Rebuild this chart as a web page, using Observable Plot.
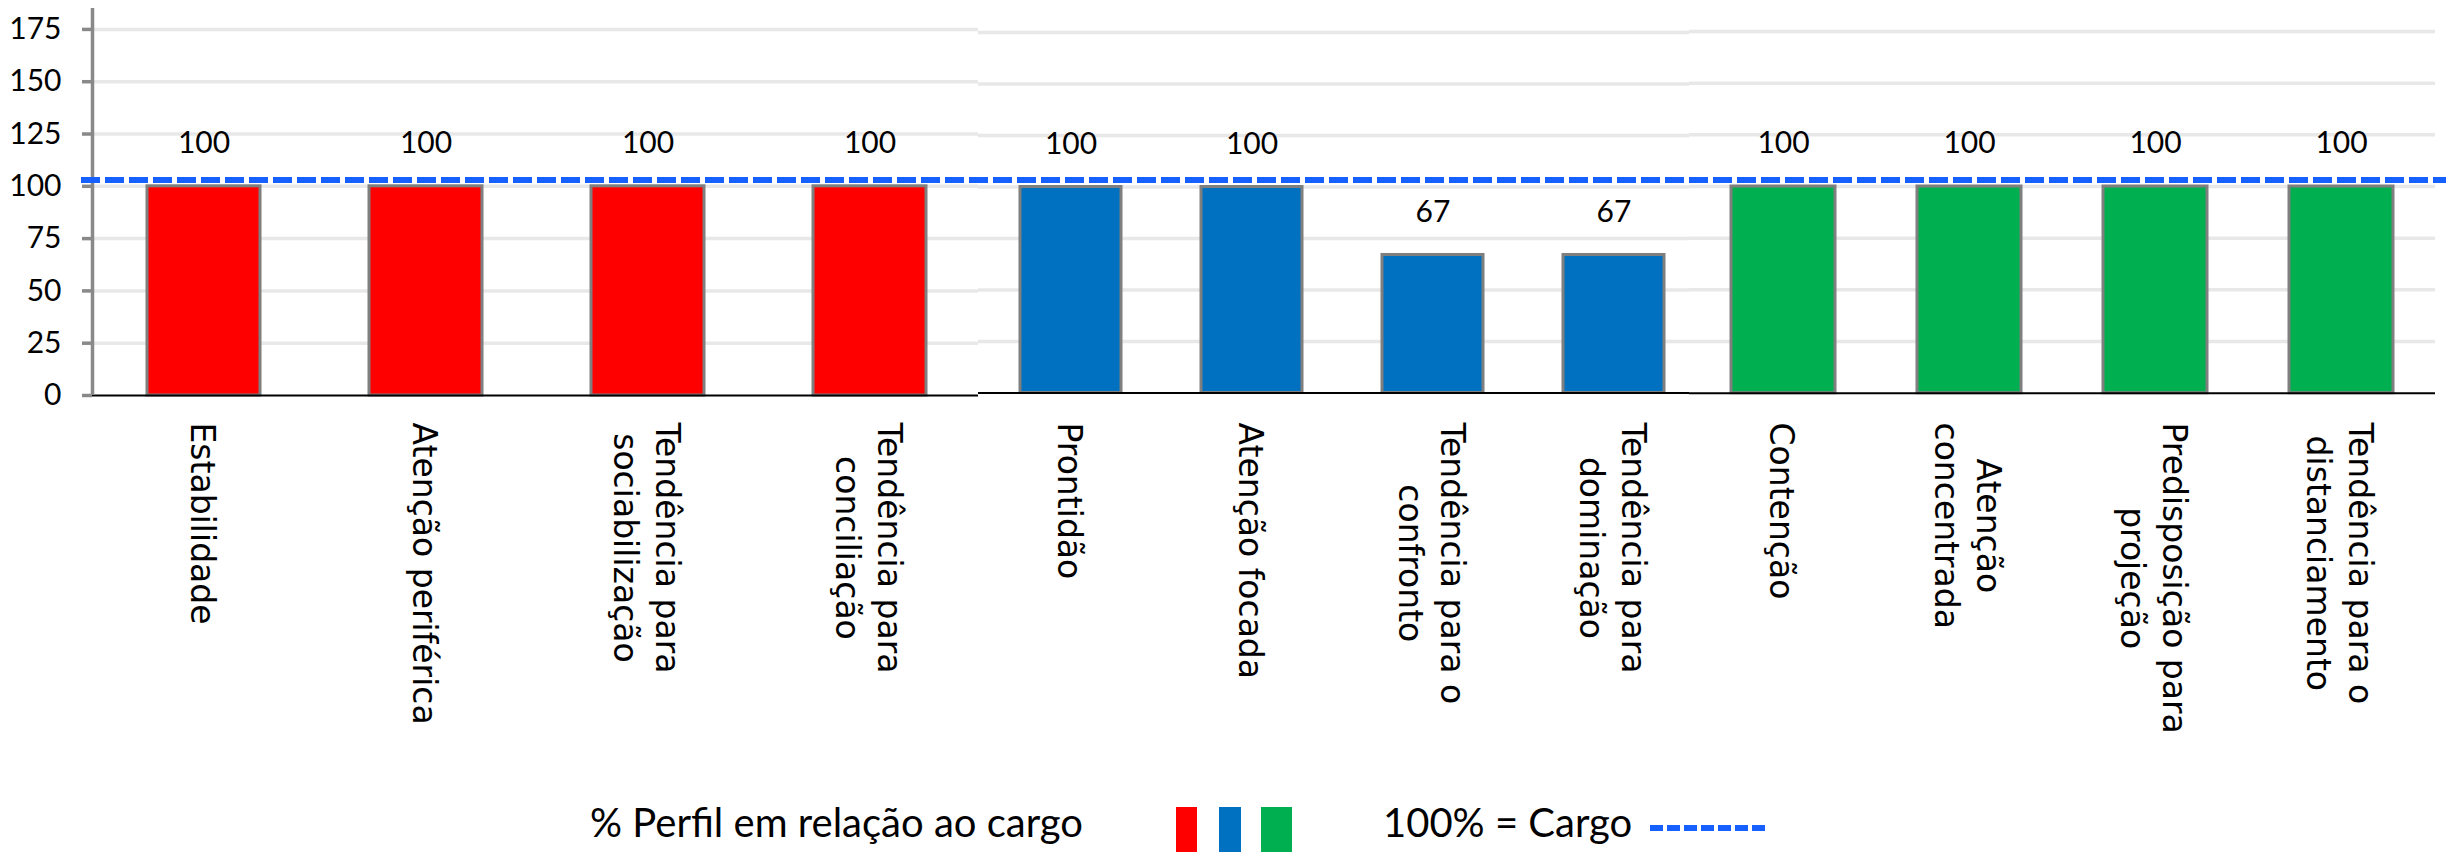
<!DOCTYPE html>
<html>
<head>
<meta charset="utf-8">
<script src="https://cdn.jsdelivr.net/npm/d3@7"></script>
<script src="https://cdn.jsdelivr.net/npm/@observablehq/plot@0.6"></script>
<style>
  html, body { margin: 0; padding: 0; background: #fff; }
  #chart { position: relative; width: 2453px; height: 852px; overflow: hidden; background: #fff; }
  .lg-text { position: absolute; font-family: Lato, sans-serif; font-size: 40px; line-height: 40px; color: #000; white-space: nowrap; }
  .lg-swatch { position: absolute; }
</style>
</head>
<body>
<div id="chart"></div>
<script>
// ---------- data ----------
const categoriesRed = ["Estabilidade", "Atenção periférica", "Tendência para\nsociabilização", "Tendência para\nconciliação"];
const valuesRed = [100, 100, 100, 100];
const categoriesBlue = ["Prontidão", "Atenção focada", "Tendência para o\nconfronto", "Tendência para\ndominação"];
const valuesBlue = [100, 100, 67, 67];
const categoriesGreen = ["Contenção", "Atenção\nconcentrada", "Predisposição para\nprojeção", "Tendência para o\ndistanciamento"];
const valuesGreen = [100, 100, 100, 100];
const seriesColors = ["#FF0000", "#0070C0", "#00B050"];
const yTicks = [0, 25, 50, 75, 100, 125, 150, 175];
const cargoLevel = 103;
const legendPerfil = "% Perfil em relação ao cargo";
const legendCargo = "100% = Cargo";

// ---------- layout ----------
const chart = document.getElementById("chart");
const LABEL_FONT = 33;
const labelTop = 422;
const ctx = document.createElement("canvas").getContext("2d");
ctx.font = `${LABEL_FONT}px 'DejaVu Sans'`;
const maxLineWidth = s => Math.max(...s.split("\n").map(l => ctx.measureText(l).width));

const panels = [
  {cats: categoriesRed, vals: valuesRed, color: seriesColors[0], left: 0, width: 978, marginLeft: 92,
   range: [92, 981], padding: 0.49, marginTop: 8, yMax: 185, baseline: 395},
  {cats: categoriesBlue, vals: valuesBlue, color: seriesColors[1], left: 978, width: 711, marginLeft: 0,
   range: [1, 726], padding: 0.443, marginTop: 32, yMax: 175, baseline: 392.5},
  {cats: categoriesGreen, vals: valuesGreen, color: seriesColors[2], left: 1689, width: 746, marginLeft: 0,
   range: [0, 746], padding: 0.442, marginTop: 31, yMax: 175, baseline: 392.7}
];

function place(svg, left, top) {
  svg.style.position = "absolute";
  svg.style.left = left + "px";
  svg.style.top = top + "px";
  svg.style.background = "transparent";
  svg.style.overflow = "visible";
  svg.style.maxWidth = "none";
  chart.appendChild(svg);
}

const H = 400;
panels.forEach(P => {
  const data = P.cats.map((c, i) => ({cat: c, value: P.vals[i]}));
  const xOpts = {type: "band", domain: P.cats, range: P.range, paddingInner: P.padding, paddingOuter: P.padding / 2, axis: null};
  const bars = Plot.plot({
    width: P.width, height: H,
    marginLeft: P.marginLeft, marginRight: 0, marginTop: P.marginTop, marginBottom: H - P.baseline,
    x: xOpts,
    y: {domain: [0, P.yMax], axis: null},
    marks: [
      Plot.ruleY(yTicks.filter(t => t > 0), {stroke: "#e8e8e8", strokeWidth: 3.5}),
      Plot.barY(data, {x: "cat", y: "value", fill: P.color, stroke: "#7f7f7f", strokeWidth: 3}),
      Plot.ruleY([0], {stroke: "#000", strokeWidth: 2}),
      Plot.text(data, {x: "cat", y: "value", text: d => String(d.value), dy: -43,
        fontSize: 30, fontFamily: "Lato", fill: "#000"})
    ]
  });
  place(bars, P.left, 0);

  const labels = P.cats.map(c => ({cat: c, w: maxLineWidth(c)}));
  const lab = Plot.plot({
    width: P.width, height: 852,
    marginLeft: P.marginLeft, marginRight: 0, marginTop: 0, marginBottom: 0,
    x: xOpts,
    y: {type: "identity", axis: null},
    marks: [
      Plot.text(labels, {x: "cat", y: d => labelTop + d.w / 2, text: "cat", rotate: 90,
        textAnchor: "middle", lineAnchor: "middle", lineHeight: 1.27,
        fontSize: LABEL_FONT, fontFamily: "DejaVu Sans", fill: "#000"})
    ]
  });
  place(lab, P.left, 0);
});

// y axis (left panel)
const axis = Plot.plot({
  width: 100, height: H, marginLeft: 92, marginRight: 8, marginTop: 8, marginBottom: H - 395,
  style: {fontFamily: "Lato", fontSize: "30px"},
  x: {domain: [0, 1], axis: null},
  y: {domain: [0, 185], axis: null},
  marks: [
    Plot.axisY(yTicks, {tickSize: 10, tickPadding: 21, stroke: "#898989", strokeWidth: 3.5,
      fill: "#000", fontSize: 30, fontFamily: "Lato"}),
    Plot.ruleX([0], {stroke: "#898989", strokeWidth: 3.5})
  ]
});
place(axis, 0, 0);

// dashed cargo line across all panels
const cargo = Plot.plot({
  width: 2453, height: H, marginLeft: 81, marginRight: 7, marginTop: 8, marginBottom: H - 395,
  y: {domain: [0, 185], axis: null},
  marks: [
    Plot.ruleY([cargoLevel], {stroke: "#1560FF", strokeWidth: 6, strokeDasharray: "19,5"})
  ]
});
place(cargo, 0, 0);

// ---------- legend ----------
function addText(txt, left, top) {
  const d = document.createElement("div");
  d.className = "lg-text";
  d.textContent = txt;
  d.style.left = left + "px";
  d.style.top = top + "px";
  chart.appendChild(d);
}
function addSwatch(color, left, top, w, h) {
  const d = document.createElement("div");
  d.className = "lg-swatch";
  Object.assign(d.style, {left: left + "px", top: top + "px", width: w + "px", height: h + "px", background: color});
  chart.appendChild(d);
}
addText(legendPerfil, 590, 802);
addSwatch(seriesColors[0], 1176, 807, 21, 45);
addSwatch(seriesColors[1], 1219, 807, 22, 45);
addSwatch(seriesColors[2], 1261, 807, 31, 45);
addText(legendCargo, 1383, 802);
const ns = "http://www.w3.org/2000/svg";
const ls = document.createElementNS(ns, "svg");
ls.setAttribute("width", 130); ls.setAttribute("height", 12);
Object.assign(ls.style, {position: "absolute", left: "1648px", top: "822px"});
const ln = document.createElementNS(ns, "line");
ln.setAttribute("x1", 2); ln.setAttribute("x2", 121); ln.setAttribute("y1", 6); ln.setAttribute("y2", 6);
ln.setAttribute("stroke", "#1560FF"); ln.setAttribute("stroke-width", 6); ln.setAttribute("stroke-dasharray", "13,4");
ls.appendChild(ln);
chart.appendChild(ls);
</script>
</body>
</html>
